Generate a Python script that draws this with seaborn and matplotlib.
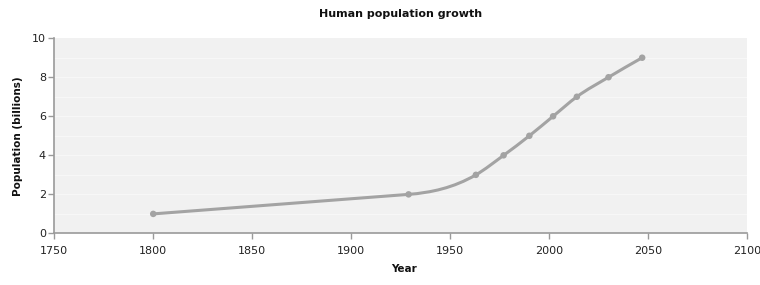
import numpy as np
import seaborn as sns
import matplotlib.pyplot as plt
from matplotlib.path import Path
from matplotlib.patches import PathPatch

# data
years = [1800, 1929, 1963, 1977, 1990, 2002, 2014, 2030, 2047]
population = [1, 2, 3, 4, 5, 6, 7, 8, 9]
x_ticks = [1750, 1800, 1850, 1900, 1950, 2000, 2050, 2100]
y_ticks = [0, 2, 4, 6, 8, 10]

sns.set_theme(style="white")
plt.rcParams['font.family'] = ['DejaVu Sans']

fig = plt.figure(figsize=(7.6, 2.85), dpi=100)
ax = fig.add_axes([0.0714, 0.181, 0.9116, 0.685])
ax.set_facecolor("#f1f1f1")

# smooth curve through the points; first segment is a straight run
x = np.array(years, dtype=float)
y = np.array(population, dtype=float)
h = np.diff(x)
s = np.diff(y) / h
m = np.zeros_like(x)
for i in range(1, len(x) - 1):
    p = (s[i - 1] * h[i] + s[i] * h[i - 1]) / (h[i - 1] + h[i])
    m[i] = (np.sign(s[i - 1]) + np.sign(s[i])) * min(abs(s[i - 1]), abs(s[i]), 0.5 * abs(p))
m[0] = m[1] = s[0]
m[-1] = (3 * s[-1] - m[-2]) / 2
verts = [(x[0], y[0])]
codes = [Path.MOVETO]
for i in range(len(x) - 1):
    d = h[i] / 3
    verts += [(x[i] + d, y[i] + m[i] * d), (x[i + 1] - d, y[i + 1] - m[i + 1] * d), (x[i + 1], y[i + 1])]
    codes += [Path.CURVE4] * 3
ax.add_patch(PathPatch(Path(verts, codes), fill=False, edgecolor="#a3a3a3", lw=2.2, zorder=3))

sns.scatterplot(x=years, y=population, ax=ax, color="#a3a3a3", s=22, edgecolor="none", zorder=4)

ax.set_xlim(1750, 2100)
ax.set_ylim(0, 10)
ax.set_xticks(x_ticks)
ax.set_yticks(y_ticks)
for v in np.arange(1, 10):
    ax.axhline(v, color="#f7f7f7", lw=0.8, zorder=1)

for side in ["top", "right"]:
    ax.spines[side].set_visible(False)
for side in ["left", "bottom"]:
    ax.spines[side].set_color("#9a9a9a")
    ax.spines[side].set_linewidth(1.2)
ax.tick_params(axis="both", colors="#9a9a9a", labelcolor="#222222", labelsize=8,
               length=4, width=1, direction="out", bottom=True, left=True)
ax.tick_params(axis="x", pad=5)
ax.tick_params(axis="y", pad=2)

ax.set_title("Human population growth", fontsize=8, fontweight="bold", color="#111111", pad=15)
ax.set_xlabel("Year", fontsize=7.5, fontweight="bold", color="#111111")
ax.xaxis.set_label_coords(0.505, -0.155)
ax.set_ylabel("Population (billions)", fontsize=7.5, fontweight="bold", color="#111111")
ax.yaxis.set_label_coords(-0.045, 0.5)

fig.savefig("out.png", dpi=100)
